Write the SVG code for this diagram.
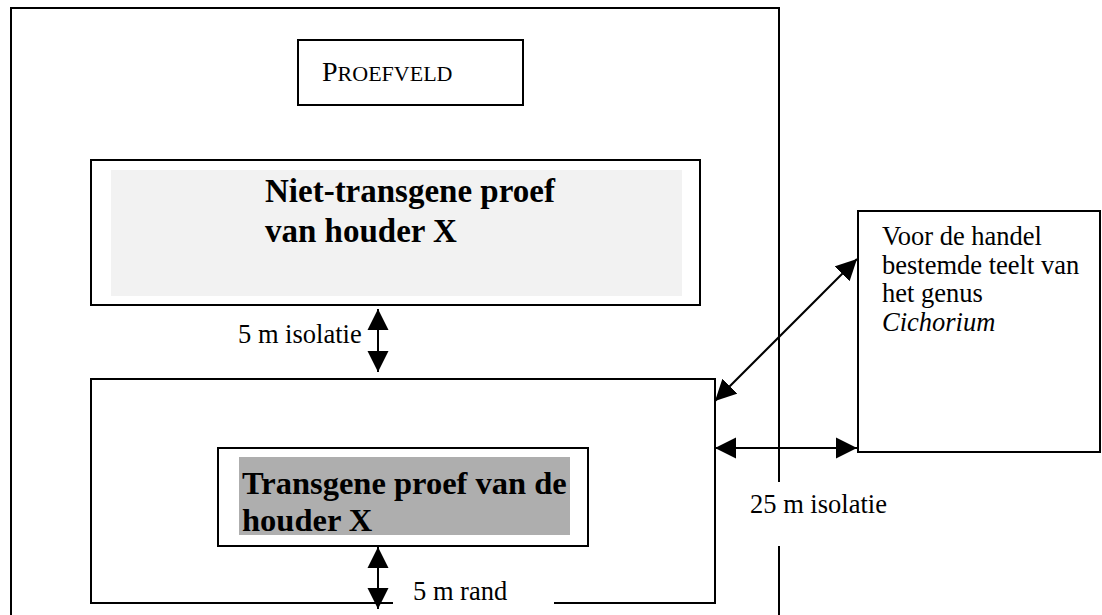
<svg xmlns="http://www.w3.org/2000/svg" width="1102" height="615" viewBox="0 0 1102 615">
<style>
.ln{fill:none;stroke:#000;stroke-width:2}
.box{fill:#fff;stroke:#000;stroke-width:2}
.t{font-family:"Liberation Serif","Times New Roman",serif;fill:#000}
.r{font-size:26.5px}
.b{font-size:32.5px;font-weight:bold}
.b2{font-size:33px;font-weight:bold}
.arr{fill:none;stroke:#000;stroke-width:2;marker-start:url(#ah);marker-end:url(#ah)}
</style>
<defs>
<marker id="ah" markerUnits="userSpaceOnUse" markerWidth="22" markerHeight="22" viewBox="0 0 22 22" refX="21" refY="11" orient="auto-start-reverse">
<path d="M0,0.5 L21,11 L0,21.5 Z" fill="#000"/>
</marker>
</defs>
<rect width="1102" height="615" fill="#fff"/>
<g id="proefveld-outer">
<path class="ln" d="M11,615 V8 H779 V482 M779,546 V615"/>
</g>
<g id="proefveld-label">
<rect class="box" x="298" y="40" width="225" height="65"/>
<text class="t" x="322" y="81"><tspan font-size="28">P</tspan><tspan font-size="22">ROEFVELD</tspan></text>
</g>
<g id="niet-transgene">
<rect class="box" x="91" y="160" width="609" height="145"/>
<rect x="111" y="170" width="571" height="126" fill="#f2f2f2"/>
<text class="t b2" x="265" y="202">Niet-transgene proef</text>
<text class="t b2" x="265" y="242">van houder X</text>
</g>
<g id="transgene-zone">
<path class="ln" d="M393,603 H91 V379 H715 V603 H554"/>
</g>
<g id="transgene">
<rect class="box" x="218" y="448" width="370" height="98"/>
<rect x="239" y="457" width="331" height="78" fill="#aeaeae"/>
<text class="t b" x="242" y="494">Transgene proef van de</text>
<text class="t b" x="242" y="531">houder X</text>
</g>
<g id="cichorium">
<rect class="box" x="858" y="211" width="242" height="241"/>
<text class="t r" x="882" y="245">Voor de handel</text>
<text class="t r" x="882" y="274">bestemde teelt van</text>
<text class="t r" x="882" y="302">het genus</text>
<text class="t r" x="882" y="331" font-style="italic">Cichorium</text>
</g>
<g id="connectors">
<line class="arr" x1="378" y1="309" x2="378" y2="372"/>
<line class="arr" x1="378" y1="547" x2="378" y2="609"/>
<line class="arr" x1="715" y1="448" x2="857" y2="448"/>
<line class="arr" x1="715" y1="401" x2="857" y2="259"/>
</g>
<g id="labels">
<text class="t r" x="238" y="343">5 m isolatie</text>
<text class="t r" x="750" y="513">25 m isolatie</text>
<text class="t r" x="413" y="600">5 m rand</text>
</g>
</svg>
